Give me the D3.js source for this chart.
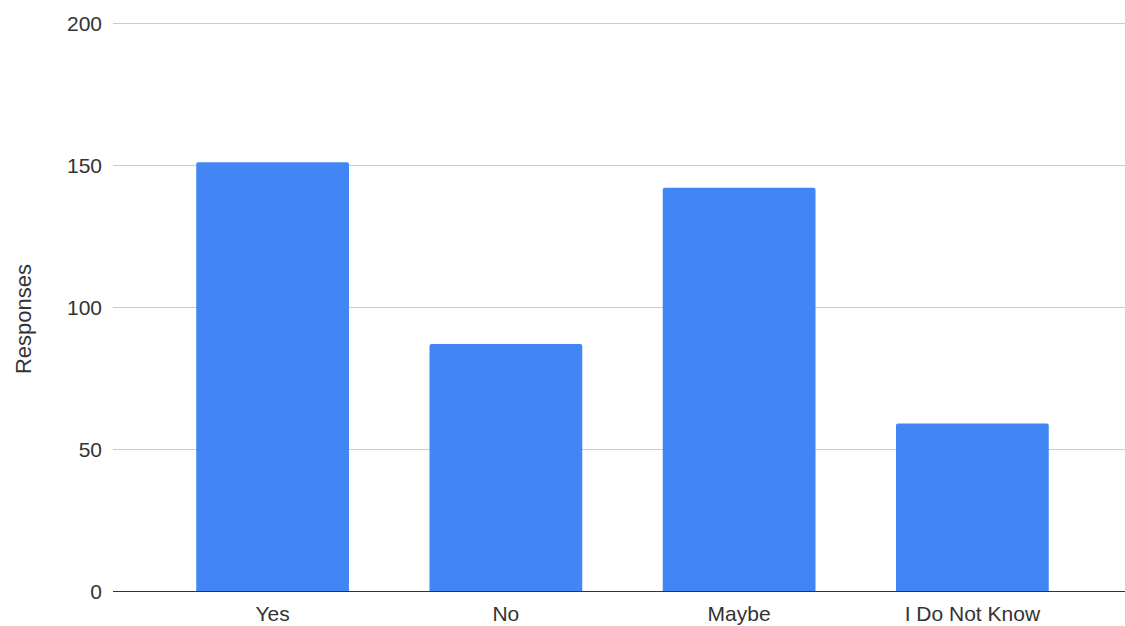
<!DOCTYPE html>
<html>
<head>
<meta charset="utf-8">
<script src="https://cdn.jsdelivr.net/npm/d3@7"></script>
<style>
  html, body { margin: 0; padding: 0; background: #fff; }
  svg { display: block; font-family: "Liberation Sans", Arial, sans-serif; }
</style>
</head>
<body>
<svg id="chart" width="1125" height="626"></svg>
<script>
const categories = ["Yes", "No", "Maybe", "I Do Not Know"];
const responses = [151, 87, 142, 59];
const yTicks = [0, 50, 100, 150, 200];

const svg = d3.select("#chart");
const gridLeft = 113, gridRight = 1125;
const plotTop = 23, plotBottom = 591;

const x = d3.scaleBand()
  .domain(categories)
  .range([156, 1089])
  .paddingInner(0.345)
  .paddingOuter(0.1725);

const y = d3.scaleLinear().domain([0, 200]).range([plotBottom, plotTop]);

// gridlines
svg.append("g")
  .selectAll("line")
  .data(yTicks.filter(d => d !== 0))
  .join("line")
  .attr("x1", gridLeft)
  .attr("x2", gridRight)
  .attr("y1", d => Math.round(y(d)) + 0.5)
  .attr("y2", d => Math.round(y(d)) + 0.5)
  .attr("stroke", "#cccccc")
  .attr("stroke-width", 1);

// y tick labels
svg.append("g")
  .selectAll("text")
  .data(yTicks)
  .join("text")
  .attr("x", 102)
  .attr("y", d => y(d))
  .attr("dy", "0.36em")
  .attr("text-anchor", "end")
  .attr("font-size", 21)
  .attr("fill", "#333")
  .text(d => d);

// bars
svg.append("g")
  .selectAll("path")
  .data(responses)
  .join("path")
  .attr("fill", "#4285f4")
  .attr("d", (d, i) => {
    const x0 = x(categories[i]), w = x.bandwidth();
    const y0 = y(d), r = 2;
    return `M${x0},${plotBottom} V${y0 + r} Q${x0},${y0} ${x0 + r},${y0} H${x0 + w - r} Q${x0 + w},${y0} ${x0 + w},${y0 + r} V${plotBottom} Z`;
  });

// baseline
svg.append("line")
  .attr("x1", gridLeft)
  .attr("x2", gridRight)
  .attr("y1", plotBottom + 0.5)
  .attr("y2", plotBottom + 0.5)
  .attr("stroke", "#333")
  .attr("stroke-width", 1.2);

// x labels
svg.append("g")
  .selectAll("text")
  .data(categories)
  .join("text")
  .attr("x", d => x(d) + x.bandwidth() / 2)
  .attr("y", 621)
  .attr("text-anchor", "middle")
  .attr("font-size", 21)
  .attr("fill", "#333")
  .text(d => d);

// y axis title
svg.append("text")
  .attr("transform", `translate(31, 319) rotate(-90)`)
  .attr("text-anchor", "middle")
  .attr("font-size", 22)
  .attr("fill", "#333")
  .text("Responses");
</script>
</body>
</html>
